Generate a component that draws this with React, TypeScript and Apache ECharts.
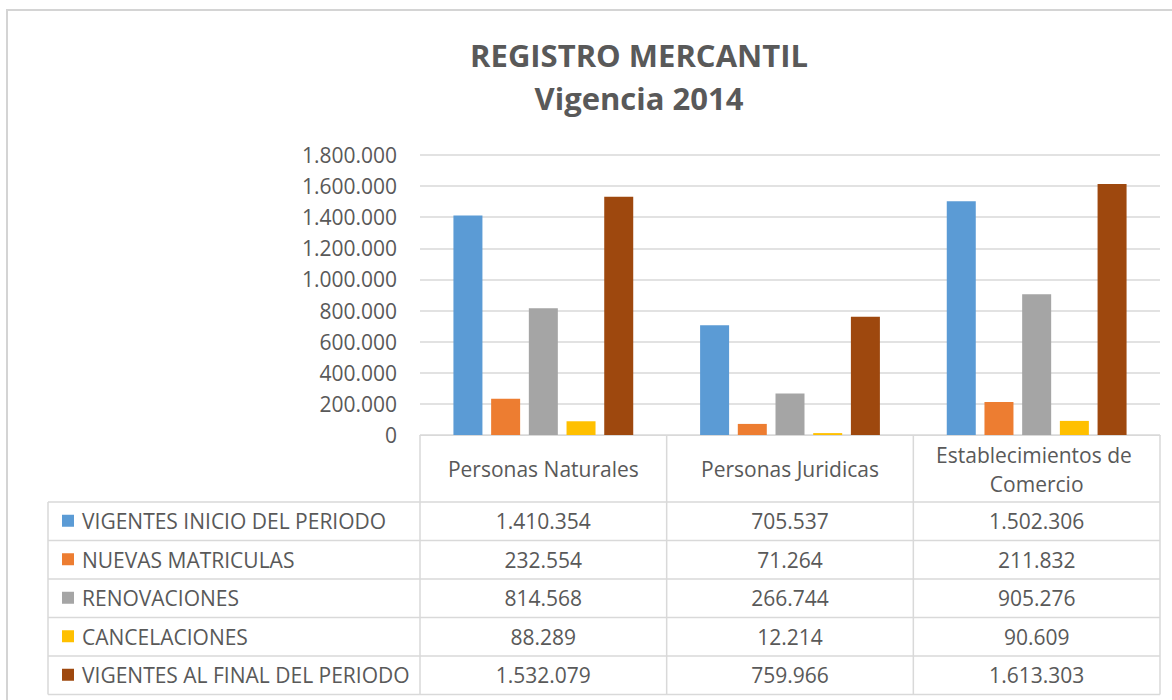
import React, { useEffect, useRef } from "react";
import * as echarts from "echarts";

const titleLines = ["REGISTRO MERCANTIL", "Vigencia 2014"];
const categories = ["Personas Naturales", "Personas Juridicas", "Establecimientos de Comercio"];
const seriesNames = [
  "VIGENTES INICIO DEL PERIODO",
  "NUEVAS MATRICULAS",
  "RENOVACIONES",
  "CANCELACIONES",
  "VIGENTES AL FINAL DEL PERIODO",
];
const seriesColors = ["#5B9BD5", "#ED7D31", "#A5A5A5", "#FFC000", "#9E480E"];
const vigentesInicio = [1410354, 705537, 1502306];
const nuevasMatriculas = [232554, 71264, 211832];
const renovaciones = [814568, 266744, 905276];
const cancelaciones = [88289, 12214, 90609];
const vigentesFinal = [1532079, 759966, 1613303];
const yMin = 0;
const yMax = 1800000;
const yInterval = 200000;

const seriesValues = [vigentesInicio, nuevasMatriculas, renovaciones, cancelaciones, vigentesFinal];

const fmt = (n: number) => String(Math.round(n)).replace(/\B(?=(\d{3})+(?!\d))/g, ".");

const FONT = "'Open Sans', 'Noto Sans', sans-serif";
const TXT = "#595959";
const LINE = "#d9d9d9";

export default function App() {
  const ref = useRef<HTMLDivElement>(null);
  useEffect(() => {
    if (!ref.current) return;
    const chart = echarts.init(ref.current, undefined, { renderer: "svg" });
    const gridLeft = 420;
    const gridRight = 12;
    const gridTop = 155;
    const gridBottomY = 435;
    chart.setOption({
      animation: false,
      backgroundColor: "#ffffff",
      textStyle: { fontFamily: FONT },
      grid: { left: gridLeft, right: gridRight, top: gridTop, bottom: 700 - gridBottomY, containLabel: false },
      xAxis: {
        type: "category",
        data: categories,
        axisLine: { show: true, lineStyle: { color: LINE, width: 1 } },
        axisTick: { show: false },
        axisLabel: {
          interval: 0,
          margin: 34,
          fontSize: 21,
          color: TXT,
          fontFamily: FONT,
          verticalAlign: "middle",
          lineHeight: 29,
          width: 225,
          overflow: "break",
        },
      },
      yAxis: {
        type: "value",
        min: yMin,
        max: yMax,
        interval: yInterval,
        axisLine: { show: false },
        axisTick: { show: false },
        splitLine: { lineStyle: { color: LINE, width: 1.5 } },
        axisLabel: { margin: 23, fontSize: 21, color: TXT, fontFamily: FONT, formatter: (v: number) => fmt(v) },
      },
      series: seriesNames.map((name, i) => ({
        type: "bar",
        name,
        data: seriesValues[i],
        barWidth: 29,
        barGap: "30%",
        itemStyle: { color: seriesColors[i] },
      })),
    });

    // table geometry
    const tableLeft = 48;
    const tableRight = 1160;
    const headerBottom = 502;
    const rowH = 38.5;
    const tableBottom = headerBottom + rowH * seriesNames.length;
    const catW = (1172 - gridLeft - gridRight) / categories.length;
    const boundaries = categories.map((_, i) => gridLeft + i * catW).concat([gridLeft + categories.length * catW]);
    const centers = categories.map((_, i) => chart.convertToPixel({ xAxisIndex: 0 }, i) as number);

    const g: any[] = [];
    g.push({
      type: "rect",
      shape: { x: 7, y: 10, width: 1200, height: 720 },
      style: { fill: "none", stroke: "#d4d4d4", lineWidth: 2 },
      silent: true,
    });
    titleLines.forEach((t, i) => {
      g.push({
        type: "text",
        x: 639,
        y: 55 + i * 43,
        style: {
          text: t,
          fill: TXT,
          font: `bold 31px ${FONT}`,
          textAlign: "center",
          textVerticalAlign: "middle",
        },
      });
    });
    // horizontal lines
    for (let r = 0; r <= seriesNames.length; r++) {
      const y = headerBottom + r * rowH;
      g.push({ type: "line", shape: { x1: tableLeft, y1: y, x2: tableRight, y2: y }, style: { stroke: LINE, lineWidth: 1.5 } });
    }
    // vertical lines
    g.push({ type: "line", shape: { x1: tableLeft, y1: headerBottom, x2: tableLeft, y2: tableBottom }, style: { stroke: LINE, lineWidth: 1.5 } });
    boundaries.forEach((x) => {
      g.push({ type: "line", shape: { x1: x, y1: gridBottomY, x2: x, y2: tableBottom }, style: { stroke: LINE, lineWidth: 1.5 } });
    });
    // rows
    seriesNames.forEach((name, r) => {
      const cy = headerBottom + r * rowH + rowH / 2;
      g.push({ type: "rect", shape: { x: 62, y: cy - 6.5, width: 12, height: 12 }, style: { fill: seriesColors[r] } });
      g.push({
        type: "text",
        x: 82,
        y: cy,
        style: { text: name, fill: TXT, font: `21px ${FONT}`, textAlign: "left", textVerticalAlign: "middle" },
      });
      seriesValues[r].forEach((v, c) => {
        g.push({
          type: "text",
          x: centers[c],
          y: cy,
          style: { text: fmt(v), fill: TXT, font: `21px ${FONT}`, textAlign: "center", textVerticalAlign: "middle" },
        });
      });
    });
    chart.setOption({ graphic: g });
    return () => chart.dispose();
  }, []);
  return (
    <div
      ref={ref}
      style={{ position: "absolute", left: 0, top: 0, width: 1172, height: 700, background: "#fff" }}
    />
  );
}
